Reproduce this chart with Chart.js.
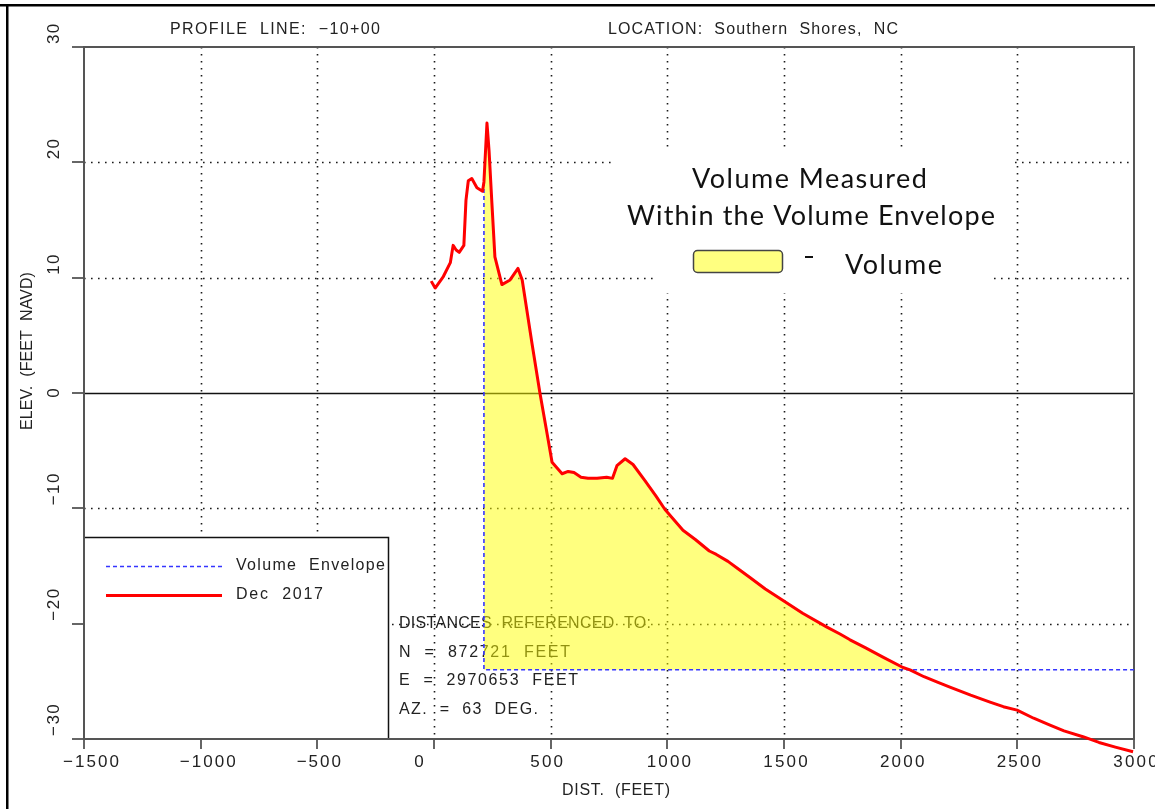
<!DOCTYPE html>
<html><head><meta charset="utf-8">
<script src="https://cdn.jsdelivr.net/npm/chart.js@4.4.1/dist/chart.umd.min.js"></script>
<style>html,body{margin:0;padding:0;background:#fff;}canvas{display:block;}</style>
</head><body>
<canvas id="c" width="1155" height="809"></canvas>
<script>
// ---- data ----
const profileDist = [-12, 5, 40, 70, 82, 95, 108, 128, 137, 147, 162, 184, 208, 214, 227, 236, 248, 261, 291, 326, 360, 378, 420, 454, 480, 506, 549, 575, 600, 630, 660, 699, 740, 765, 784, 819, 853, 904, 950, 990, 1067, 1120, 1180, 1210, 1260, 1300, 1354, 1420, 1496, 1580, 1684, 1740, 1783, 1850, 1924, 2010, 2040, 2100, 2160, 2211, 2300, 2383, 2440, 2499, 2570, 2640, 2700, 2781, 2850, 2920, 2996];
const profileElev = [9.7, 9.1, 10.1, 11.3, 12.8, 12.4, 12.2, 12.8, 16.7, 18.4, 18.6, 17.8, 17.5, 18.3, 23.4, 21.0, 16.5, 11.8, 9.4, 9.8, 10.8, 9.8, 4.3, 0.0, -3.0, -6.0, -7.0, -6.8, -6.9, -7.3, -7.4, -7.4, -7.3, -7.4, -6.3, -5.7, -6.2, -7.6, -8.9, -10.1, -11.9, -12.7, -13.7, -14.0, -14.6, -15.2, -16.0, -17.0, -18.0, -19.1, -20.3, -20.9, -21.4, -22.1, -22.9, -23.8, -24.0, -24.6, -25.1, -25.5, -26.2, -26.8, -27.2, -27.5, -28.2, -28.8, -29.3, -29.8, -30.3, -30.7, -31.1];
const envelopeDist = [214, 214, 3000];
const envelopeElev = [18.3, -24, -24];
const volumeBase = -24;
const volumeStart = 214;
const volumeEnd = 2040;
const xTicks = [-1500, -1000, -500, 0, 500, 1000, 1500, 2000, 2500, 3000];
const xTickLabels = ['−1500', '−1000', '−500', '0', '500', '1000', '1500', '2000', '2500', '3000'];
const yTicks = [30, 20, 10, 0, -10, -20, -30];
const yTickLabels = ['30', '20', '10', '0', '−10', '−20', '−30'];
const titleLeft = 'PROFILE  LINE:  −10+00';
const titleRight = 'LOCATION:  Southern  Shores,  NC';
const xTitle = 'DIST.  (FEET)';
const yTitle = 'ELEV.  (FEET  NAVD)';
const refLines = ['DISTANCES  REFERENCED  TO:', 'N  =  872721  FEET', 'E  =  2970653  FEET', 'AZ.  =  63  DEG.'];
const noteLines = ['Volume Measured', 'Within the Volume Envelope'];
const noteLegendLabel = 'Volume';

// ---- helpers ----
const PLOT_FONT = '16px "Liberation Sans", Arial, sans-serif';
const TICK_FONT = '17px "Liberation Sans", Arial, sans-serif';
const NOTE_FONT = '27px Lato, "Open Sans", sans-serif';

function fitText(ctx, text, left, y, width) {
  ctx.save();
  ctx.letterSpacing = '0px';
  const m = ctx.measureText(text).width;
  const n = [...text].length;
  if (n > 1 && width) ctx.letterSpacing = ((width - m) / (n - 1)).toFixed(2) + 'px';
  ctx.textAlign = 'left';
  ctx.textBaseline = 'middle';
  ctx.fillText(text, left, y);
  ctx.restore();
}
function fitRot(ctx, text, cx, bottom, width) {
  ctx.save();
  ctx.translate(cx, bottom);
  ctx.rotate(-Math.PI / 2);
  fitText(ctx, text, 0, 0, width);
  ctx.restore();
}
function seg(ctx, x1, y1, x2, y2) { ctx.beginPath(); ctx.moveTo(x1, y1); ctx.lineTo(x2, y2); ctx.stroke(); }

const decor = {
  id: 'decor',
  beforeDatasetsDraw(chart) {
    const { ctx, chartArea: a, scales: { x, y } } = chart;
    ctx.save();
    // outer frame
    ctx.fillStyle = '#000';
    ctx.fillRect(0, 4, 1155, 2.5);
    ctx.fillRect(6, 4, 2.5, 805);
    // dotted grid
    ctx.strokeStyle = '#1a1a1a';
    ctx.lineWidth = 1.6;
    ctx.setLineDash([1.6, 5.4]);
    xTicks.slice(1, -1).forEach(v => { const px = Math.round(x.getPixelForValue(v)) + 0.5; seg(ctx, px, a.top, px, a.bottom); });
    yTicks.slice(1, -1).forEach(v => { if (v === 0) return; const py = Math.round(y.getPixelForValue(v)) + 0.5; seg(ctx, a.left, py, a.right, py); });
    ctx.setLineDash([]);
    // zero line
    ctx.strokeStyle = '#111'; ctx.lineWidth = 1.4;
    const y0 = Math.round(y.getPixelForValue(0)) + 0.5;
    seg(ctx, a.left, y0, a.right, y0);
    // white boxes (note box, legend box)
    ctx.fillStyle = '#fff';
    ctx.fillRect(612, 152, 403, 88);
    ctx.fillRect(658, 240, 334, 53);
    ctx.fillRect(a.left, 537, 388 - a.left, a.bottom - 537);
    ctx.strokeStyle = '#111'; ctx.lineWidth = 1.5;
    ctx.beginPath(); ctx.moveTo(a.left, 537.5); ctx.lineTo(388.5, 537.5); ctx.lineTo(388.5, a.bottom); ctx.stroke();
    // legend entries
    const ds = chart.data.datasets;
    [[ds[1], 566, 149], [ds[2], 595, 87]].forEach(([d, ly, w]) => {
      ctx.save();
      ctx.strokeStyle = d.borderColor; ctx.lineWidth = d.borderWidth; ctx.setLineDash(d.borderDash || []);
      seg(ctx, 106, ly + 0.5, 222, ly + 0.5);
      ctx.restore();
      ctx.fillStyle = '#222'; ctx.font = PLOT_FONT;
      fitText(ctx, d.label, 236, ly, w);
    });
    // reference text
    ctx.fillStyle = '#222'; ctx.font = PLOT_FONT;
    const refW = [252, 171, 179, 139];
    const refY = [624, 653, 681, 710];
    refLines.forEach((t, i) => fitText(ctx, t, 399, refY[i], refW[i]));
    // axes frame
    ctx.strokeStyle = '#555'; ctx.lineWidth = 2;
    ctx.strokeRect(a.left, a.top, a.right - a.left, a.bottom - a.top);
    // tick marks
    ctx.lineWidth = 1.8;
    xTicks.forEach(v => { const px = Math.round(x.getPixelForValue(v)); seg(ctx, px, a.bottom, px, a.bottom + 10); });
    yTicks.forEach(v => { const py = Math.round(y.getPixelForValue(v)); seg(ctx, a.left - 12, py, a.left, py); });
    ctx.restore();
  },
  afterDraw(chart) {
    const { ctx, chartArea: a, scales: { x, y } } = chart;
    ctx.save();
    ctx.fillStyle = '#222';
    // titles
    ctx.font = PLOT_FONT;
    fitText(ctx, titleLeft, 170, 30, 210);
    fitText(ctx, titleRight, 608, 30, 290);
    fitText(ctx, xTitle, 562, 791, 108);
    fitRot(ctx, yTitle, 28, 430, 158);
    // tick labels
    ctx.font = TICK_FONT;
    xTickLabels.forEach((t, i) => {
      const n = [...t].length;
      const w = n > 1 ? 11.6 * n - 2 : 0;
      const cx = x.getPixelForValue(xTicks[i]) + 7 + (n - 5) * 5.5;
      const mw = w || ctx.measureText(t).width;
      fitText(ctx, t, cx - mw / 2, 762, w);
    });
    yTickLabels.forEach((t, i) => {
      const n = [...t].length;
      const w = n > 1 ? 11.6 * n - 3 : 0;
      const py = y.getPixelForValue(yTicks[i]);
      const bottom = n > 1 ? py - 3 : py + ctx.measureText(t).width / 2;
      fitRot(ctx, t, 54, bottom, w);
    });
    // note box
    ctx.fillStyle = '#111';
    ctx.font = NOTE_FONT;
    fitText(ctx, noteLines[0], 692, 179, 235);
    fitText(ctx, noteLines[1], 627, 216, 368);
    fitText(ctx, noteLegendLabel, 845, 265, 97);
    ctx.fillRect(805, 256, 8, 2);
    ctx.fillStyle = 'rgb(255,255,128)';
    ctx.strokeStyle = '#444'; ctx.lineWidth = 1.5;
    ctx.beginPath();
    if (ctx.roundRect) ctx.roundRect(693.5, 250.5, 89, 22, 4); else ctx.rect(693.5, 250.5, 89, 22);
    ctx.fill(); ctx.stroke();
    ctx.restore();
  }
};

const profilePts = profileDist.map((d, i) => ({ x: d, y: profileElev[i] }));
const volumePts = profilePts.filter(p => p.x >= volumeStart && p.x <= volumeEnd);
const envelopePts = envelopeDist.map((d, i) => ({ x: d, y: envelopeElev[i] }));

const hiddenAxis = { grid: { display: false, drawTicks: false, tickLength: 0 }, border: { display: false }, ticks: { display: false, padding: 0 } };

new Chart(document.getElementById('c'), {
  type: 'line',
  data: {
    datasets: [
      { label: 'Volume', data: volumePts, borderWidth: 0, borderColor: 'rgba(0,0,0,0)', pointRadius: 0,
        fill: { value: volumeBase }, backgroundColor: 'rgba(255,255,0,0.5)', order: 3, tension: 0 },
      { label: 'Volume  Envelope', data: envelopePts, borderColor: '#3535ff', borderWidth: 1.6, borderDash: [4, 3],
        pointRadius: 0, fill: false, order: 2, tension: 0 },
      { label: 'Dec  2017', data: profilePts, borderColor: '#ff0000', borderWidth: 3, pointRadius: 0,
        fill: false, order: 1, tension: 0, clip: false, borderJoinStyle: 'round' }
    ]
  },
  options: {
    responsive: false, animation: false, devicePixelRatio: 1,
    layout: { padding: { left: 84, right: 21, top: 47, bottom: 70 } },
    plugins: { legend: { display: false }, tooltip: { enabled: false } },
    scales: {
      x: Object.assign({ type: 'linear', min: -1500, max: 3000 }, hiddenAxis),
      y: Object.assign({ type: 'linear', min: -30, max: 30 }, hiddenAxis)
    }
  },
  plugins: [decor]
});
</script>
</body></html>
